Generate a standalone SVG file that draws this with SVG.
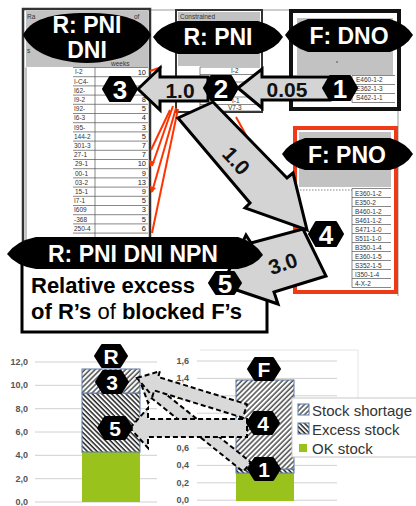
<svg xmlns="http://www.w3.org/2000/svg" width="416" height="506" viewBox="0 0 416 506">
<defs>
<style>
text{font-family:"Liberation Sans",Arial,sans-serif}
.tb{fill:#333;font-size:6.5px}
.tn{fill:#222;font-size:7.5px;text-anchor:end}
.rl{fill:none;stroke:#555;stroke-width:0.7}
.ban{fill:#000}
.bt{fill:#fff;font-weight:bold;font-size:23px;text-anchor:middle}
.hex{fill:#000;stroke:#000;stroke-width:2;stroke-linejoin:round}
.ht{fill:#fff;font-weight:bold;font-size:26px;text-anchor:middle}
.hc{fill:#fff;font-weight:bold;font-size:21px;text-anchor:middle}
.arr{fill:#d4d4d4;stroke:#000;stroke-width:3;stroke-linejoin:miter}
.at{fill:#111;font-weight:bold;font-size:21px;text-anchor:middle}
.darr{fill:#d9d9d9;stroke:#000;stroke-width:2;stroke-dasharray:5 3}
.red{stroke:#ff3300;stroke-width:2;fill:none}
.grid{stroke:#d0d0d0;stroke-width:1}
.ax{fill:#555;font-size:9px;font-weight:bold;text-anchor:end}
.lg{fill:#333;font-size:15px}
.gray{fill:#c2c2c2}
</style>
<pattern id="hs" width="3.6" height="3.6" patternUnits="userSpaceOnUse" patternTransform="rotate(45)"><rect width="3.6" height="3.6" fill="#fff"/><line x1="1" y1="0" x2="1" y2="3.6" stroke="#333" stroke-width="1.3"/></pattern>
<pattern id="he" width="3.4" height="3.4" patternUnits="userSpaceOnUse" patternTransform="rotate(-45)"><rect width="3.4" height="3.4" fill="#fff"/><line x1="1" y1="0" x2="1" y2="3.4" stroke="#222" stroke-width="1.5"/></pattern>
</defs>
<rect width="416" height="506" fill="#fff"/>

<!-- screenshot frame lines -->
<g id="frame" fill="none" stroke="#999" stroke-width="1">
<path d="M150,10 H291"/>
<path d="M398,110 V296"/>
</g>

<!-- left table -->
<g id="table-left">
<rect x="23" y="9" width="127" height="241" fill="#fff" stroke="#333" stroke-width="2.5"/>
<rect x="26" y="11" width="122" height="56" class="gray"/>
<text x="27" y="19" class="tb">Ra</text>
<text x="134" y="19" class="tb">of</text>
<text x="27" y="53" class="tb">s</text>
<text x="111" y="66" class="tb">weeks</text>
<path class="rl" d="M73,67.5H148M73,76.7H148M73,85.9H148M73,95.1H148M73,104.3H148M73,113.5H148M73,122.7H148M73,131.9H148M73,141.1H148M73,150.3H148M73,159.5H148M73,168.7H148M73,177.9H148M73,187.1H148M73,196.3H148M73,205.5H148M73,214.7H148M73,223.9H148M73,233.1H148M73,242.3H148M95,67.5V250M26,67.5V250"/>
<g class="tb">
<text x="75" y="74.3">I-2</text><text x="74" y="83.5">I-C4-</text><text x="74" y="92.7">I62-</text><text x="74" y="101.9">I9-2</text><text x="74" y="111.1">I92-</text><text x="74" y="120.3">I6-3</text><text x="74" y="129.5">I95-</text><text x="74" y="138.7">144-2</text><text x="74" y="147.9">301-3</text><text x="74" y="157.1">27-1</text><text x="75" y="166.3">29-1</text><text x="75" y="175.5">00-1</text><text x="75" y="184.7">03-2</text><text x="75" y="193.9">15-1</text><text x="74" y="203.1">I7-1</text><text x="74" y="212.3">I609</text><text x="74" y="221.5">-368</text><text x="74" y="230.7">250-4</text>
</g>
<g class="tn">
<text x="146" y="74.5">10</text><text x="146" y="102">8</text><text x="146" y="111.2">5</text><text x="146" y="120.4">4</text><text x="146" y="129.6">3</text><text x="146" y="138.8">5</text><text x="146" y="148">7</text><text x="146" y="157.2">7</text><text x="146" y="166.4">10</text><text x="146" y="175.6">9</text><text x="146" y="184.8">13</text><text x="146" y="194">9</text><text x="146" y="203.2">5</text><text x="146" y="212.4">3</text><text x="146" y="221.6">5</text><text x="146" y="230.8">6</text>
</g>
</g>

<!-- middle table -->
<g id="table-mid">
<rect x="176" y="10" width="86" height="102" fill="#fff" stroke="#333" stroke-width="2"/>
<rect x="178" y="12" width="82" height="54" class="gray"/>
<text x="180" y="19" class="tb" fill="#444">Constrained</text>
<path class="rl" d="M200,67H260M200,74.5H260M200,82H260M200,89.5H260M200,97H260M200,104.5H260M200,111H260M200,67V111"/>
<text x="231" y="73" class="tb">I-2</text>
<text x="232" y="102.5" class="tb">I-1</text>
<text x="228" y="109.5" class="tb">V7-3</text>
</g>

<!-- top right table F:DNO -->
<g id="table-dno">
<rect x="291" y="11" width="108" height="98" fill="#fff" stroke="#111" stroke-width="4"/>
<rect x="297" y="18" width="96" height="57" class="gray"/>
<circle cx="337" cy="62" r="0.8" fill="#444"/>
<path class="rl" d="M352,75.5H395M352,84.5H395M352,93.5H395M352,102.5H395M352,75.5V102.5"/>
<text x="356" y="82" class="tb">E460-1-2</text>
<text x="356" y="91" class="tb">E362-1-3</text>
<text x="356" y="100" class="tb">S462-1-1</text>
</g>

<!-- F:PNO table -->
<g id="table-pno">
<rect x="295" y="128" width="101" height="164" fill="#fff" stroke="#ee3a16" stroke-width="4"/>
<rect x="299" y="132" width="92" height="55" class="gray"/>
<path d="M300,190H352" stroke="#666" stroke-width="0.8" stroke-dasharray="1.5 1.5"/>
<path class="rl" d="M352,188.5H391M352,197.5H391M352,206.5H391M352,215.5H391M352,224.5H391M352,233.5H391M352,242.5H391M352,251.5H391M352,260.5H391M352,269.5H391M352,278.5H391M352,287.5H391M352,188.5V287.5"/>
<g class="tb">
<text x="355" y="195.5">E360-1-2</text><text x="355" y="204.5">E350-2</text><text x="355" y="213.5">B460-1-2</text><text x="355" y="222.5">S461-1-2</text><text x="355" y="231.5">S471-1-0</text><text x="355" y="240.5">S511-1-0</text><text x="355" y="249.5">B350-1-4</text><text x="355" y="258.5">E360-1-5</text><text x="355" y="267.5">S352-1-5</text><text x="355" y="276.5">I350-1-4</text><text x="355" y="285.5">4-X-2</text>
</g>
</g>

<!-- label box -->
<g id="label-box">
<rect x="22" y="262" width="245" height="70" fill="#fff" stroke="#000" stroke-width="3"/>
<text x="31" y="293" font-size="22" font-weight="bold" fill="#000">Relative excess</text>
<text x="31" y="319" font-size="22" font-weight="bold" fill="#000">of R’s <tspan font-weight="normal">of</tspan> blocked F’s</text>
</g>

<!-- connectors -->
<g id="connectors">
<g class="red">
<path d="M150,71 L162,67"/>
<path d="M173,106 L152,166"/>
<path d="M176,108 L152,192"/>
<path d="M178,109 L152,233"/>
<path d="M170,110 L151,150"/>
<path d="M236,117 L298,229"/>
</g>
<g fill="#ff3300">
<path d="M150,167 L149,160 L155,162 Z"/>
<path d="M151,193 L150,186 L156,188 Z"/>
</g>
<polygon class="arr" points="138,89 160,68 160,77 208,77 208,101 160,101 160,110"/>
<polygon class="arr" points="238,88 262,69 262,77 330,77 330,100 262,100 262,108"/>
<polygon class="arr" points="178,118 250,203 245,208 307,230 293,173 287,178 213,102"/>
<polygon class="arr" points="303,229 326,276 274,292 278,304 222,285 246,235 251,243"/>
<text class="at" x="180" y="98">1.0</text>
<text class="at" x="287" y="97">0.05</text>
<text class="at" transform="translate(236,161) rotate(47)" y="7">1.0</text>
<text class="at" transform="translate(283,264) rotate(-19)" y="7">3.0</text>
</g>

<!-- banners -->
<g id="banner-r-pni-dni">
<path class="ban" d="M23,35 C30,20 50,13 87,13 C124,13 144,20 151,35 C144,50 124,62 87,63 C50,62 30,50 23,35 Z"/>
<text class="bt" x="87" y="33">R: PNI</text>
<text class="bt" x="87" y="58">DNI</text>
</g>
<g id="banner-r-pni">
<path class="ban" d="M153,37 Q160,26 178,21 L258,21 Q276,26 283,37 Q276,49 258,54 L178,54 Q160,49 153,37 Z"/>
<text class="bt" x="218" y="45">R: PNI</text>
</g>
<g id="banner-f-dno">
<path class="ban" d="M285,35 Q292,24 308,19 L390,19 Q406,24 413,35 Q406,47 390,52 L308,52 Q292,47 285,35 Z"/>
<text class="bt" x="349" y="44">F: DNO</text>
</g>
<g id="banner-f-pno">
<path class="ban" d="M282,154 Q289,143 305,138 L390,138 Q406,143 413,154 Q406,166 390,170 L305,170 Q289,166 282,154 Z"/>
<text class="bt" x="347" y="163">F: PNO</text>
</g>
<g id="banner-npn">
<path class="ban" d="M7,254 Q16,241 36,237 L238,237 Q255,242 263,255 Q255,266 238,269 L36,269 Q16,266 7,254 Z"/>
<text class="bt" x="48" y="262" style="text-anchor:start">R: PNI DNI NPN</text>
</g>

<!-- numbered nodes top -->
<g id="n3"><polygon class="hex" points="103,89 110,77 130,77 137,89 130,101 110,101"/><text class="ht" x="120" y="98.5">3</text></g>
<g id="n2"><polygon class="hex" points="204,88 211,76 231,76 238,88 231,100 211,100"/><text class="ht" x="221" y="97.5">2</text></g>
<g id="n1"><polygon class="hex" points="323,88 330,76 350,76 357,88 350,100 330,100"/><text class="ht" x="340" y="97.5">1</text></g>
<g id="n4"><polygon class="hex" points="309,234 316,222 336,222 343,234 336,246 316,246"/><text class="ht" x="326" y="243.5">4</text></g>
<g id="n5"><polygon class="hex" points="209,283 216,272 234,272 241,283 234,294 216,294"/><text class="ht" x="225" y="292.5">5</text></g>

<!-- chart -->
<g id="chart-left">
<path class="grid" d="M35,362H157M35,385.3H157M35,408.7H157M35,432H157M35,455.3H157M35,478.7H157M35,502H157"/>
<g class="ax">
<text x="28" y="365">12,0</text><text x="28" y="388.3">10,0</text><text x="28" y="411.7">8,0</text><text x="28" y="435">6,0</text><text x="28" y="458.3">4,0</text><text x="28" y="481.7">2,0</text><text x="28" y="505">0,0</text>
</g>
<rect x="82" y="452" width="58" height="50" fill="#99c31c"/>
<rect x="82" y="393" width="58" height="59" fill="url(#he)" stroke="#5a7aa8" stroke-width="1"/>
<rect x="82" y="369" width="58" height="24" fill="url(#hs)" stroke="#5a7aa8" stroke-width="1"/>
</g>
<g id="chart-right">
<path d="M200,350H358V398" fill="none" stroke="#e4e4e4" stroke-width="1"/>
<path class="grid" d="M197,361H337M197,378.4H337M197,395.8H337M197,413.2H337M197,430.6H337M197,448H337M197,465.4H337M197,482.8H337M197,500.2H337"/>
<g class="ax">
<text x="189" y="364">1,6</text><text x="189" y="381.4">1,4</text><text x="189" y="398.8">1,2</text><text x="189" y="416.2">1,0</text><text x="189" y="433.6">0,8</text><text x="189" y="451">0,6</text><text x="189" y="468.4">0,4</text><text x="189" y="485.8">0,2</text><text x="189" y="503.2">0,0</text>
</g>
<rect x="236" y="473" width="58" height="28" fill="#99c31c"/>
<rect x="236" y="469" width="58" height="4" fill="url(#he)" stroke="#5a7aa8" stroke-width="1"/>
<rect x="236" y="380" width="58" height="89" fill="url(#hs)" stroke="#5a7aa8" stroke-width="1"/>
</g>
<g id="legend">
<rect x="292" y="398" width="126" height="59" fill="#fff" stroke="#c8c8c8" stroke-width="1"/>
<rect x="298" y="404" width="11" height="11" fill="url(#hs)" stroke="#5a7aa8" stroke-width="1"/>
<text class="lg" x="312" y="415.5">Stock shortage</text>
<rect x="298" y="423" width="11" height="11" fill="url(#he)" stroke="#5a7aa8" stroke-width="1"/>
<text class="lg" x="312" y="434.5">Excess stock</text>
<rect x="299" y="444" width="8" height="8" fill="#99c31c"/>
<text class="lg" x="312" y="453.5">OK stock</text>
</g>

<!-- dashed connectors in chart -->
<g id="chart-connectors">
<polygon class="darr" points="140,381 163.1,384.2 159.4,388.9 250.8,462.3 243.2,471.7 151.8,398.3 148.1,403"/>
<polygon class="darr" points="137,378 159.9,371.2 158.2,377 247,404.3 243,417.7 154.2,390.4 152.5,396.2"/>
<polygon class="darr" points="130,428 148,408 148,419 247,419 247,437 148,437 148,448"/>
</g>

<!-- chart nodes -->
<g id="cR"><polygon class="hex" points="95,356 102,345 120,345 127,356 120,367 102,367"/><text class="hc" x="111" y="363.5">R</text></g>
<g id="c3"><polygon class="hex" points="96,382 103,371 121,371 128,382 121,393 103,393"/><text class="hc" x="112" y="389.5">3</text></g>
<g id="c5"><polygon class="hex" points="98,428 105,417 125,417 132,428 125,439 105,439"/><text class="hc" x="115" y="435.5">5</text></g>
<g id="cF"><polygon class="hex" points="248,369 255,358 273,358 280,369 273,380 255,380"/><text class="hc" x="264" y="376.5">F</text></g>
<g id="c4"><polygon class="hex" points="247,423 254,412 272,412 279,423 272,434 254,434"/><text class="hc" x="263" y="430.5">4</text></g>
<g id="c1"><polygon class="hex" points="248,469 255,458 273,458 280,469 273,480 255,480"/><text class="hc" x="264" y="476.5">1</text></g>
</svg>
